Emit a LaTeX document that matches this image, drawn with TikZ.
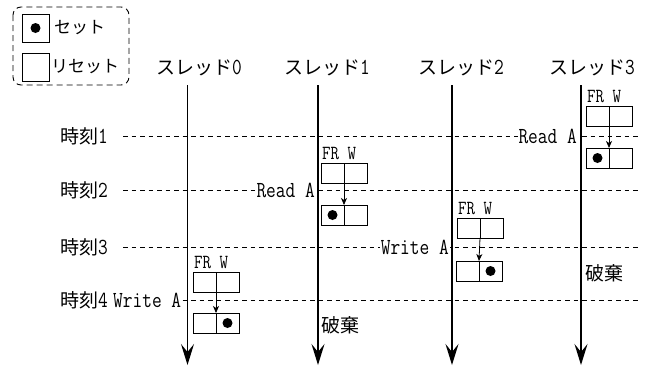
\documentclass[tikz,border=0pt]{standalone}
\usepackage{fontspec}
\newfontfamily\jp{Noto Sans CJK JP}
\newfontfamily\lat[FakeStretch=0.82]{Latin Modern Mono}
\usetikzlibrary{arrows.meta}
\newcommand{\jpsz}{\fontsize{19pt}{22pt}\selectfont}
\newcommand{\lgsz}{\fontsize{17pt}{20pt}\selectfont}
\newcommand{\dg}[1]{{\lat\fontsize{23pt}{24pt}\selectfont #1}}
\tikzset{
  thread/.style={line width=1.6pt, -{Stealth[length=21pt,width=13pt,inset=8pt]}},
  timeline/.style={line width=0.8pt, dash pattern=on 4.5pt off 4pt},
  cell/.style={draw, line width=0.8pt, fill=white, minimum width=23pt, minimum height=20pt, inner sep=0pt, outer sep=0pt},
  lgcell/.style={draw, line width=0.9pt, minimum width=27pt, minimum height=28pt, inner sep=0pt, outer sep=0pt},
  dotmark/.style={circle, fill=black, inner sep=0pt, minimum size=10pt},
  small/.style={line width=0.8pt, -{Stealth[length=7pt,width=6pt,inset=2pt]}},
  jplabel/.style={font=\jp\jpsz, inner sep=1pt},
  oplabel/.style={font=\lat\fontsize{23pt}{24pt}\selectfont, fill=white, inner sep=1pt},
  frw/.style={font=\lat\fontsize{20pt}{22pt}\selectfont, inner sep=0pt},
}
\begin{document}
\begin{tikzpicture}[x=1pt,y=-1pt]
\useasboundingbox (0,0) rectangle (650,365);
% legend
\draw[line width=0.9pt, dash pattern=on 6pt off 4pt, rounded corners=8pt] (13,7) rectangle (129,85);
\node[lgcell] (lg1) at (35.5,28) {};
\node[dotmark] (lgd) at (lg1) {};
\node[lgcell] (lg2) at (35.5,67) {};
\node[font=\jp\lgsz, anchor=west, inner sep=0pt] (lgt1) at (54,28) {セット};
\node[font=\jp\lgsz, anchor=west, inner sep=0pt] (lgt2) at (51,67) {リセット};
% thread labels
\node[jplabel] (h0) at (199,68) {スレッド\dg{0}};
\node[jplabel] (h1) at (327,68) {スレッド\dg{1}};
\node[jplabel] (h2) at (461,68) {スレッド\dg{2}};
\node[jplabel] (h3) at (592,68) {スレッド\dg{3}};
% time labels and lines
\foreach \i/\y in {1/136,2/190,3/247,4/300}{
  \node[jplabel, anchor=west] (t\i) at (59,\y) {時刻\dg{\i}};
  \coordinate (ts\i) at (123,\y);
  \coordinate (te\i) at (640,\y);
  \draw[timeline] (ts\i) -- (te\i);
}
% operation labels
\node[oplabel, anchor=east] (op1) at (578,136) {Read A};
\node[oplabel, anchor=east] (op2) at (316,190) {Read A};
\node[oplabel, anchor=east] (op3) at (450,247) {Write A};
\node[oplabel, anchor=west] (op4) at (112,300) {Write A};
% threads
\foreach \i/\x in {0/187.5,1/318,2/452,3/581}{
  \coordinate (thtop\i) at (\x,85);
  \coordinate (thbot\i) at (\x,365);
  \draw[thread] (thtop\i) -- (thbot\i);
}
% registers: thread 3
\node[cell, anchor=north west] (r3a) at (586,106) {};
\node[cell, anchor=west] (r3b) at (r3a.east) {};
\node[frw, anchor=base west] (f3) at ([xshift=1pt,yshift=4pt]r3a.north west) {FR W};
\node[cell, anchor=north west] (s3a) at (586,148) {};
\node[cell, anchor=west] (s3b) at (s3a.east) {};
\node[dotmark] (d3) at (s3a) {};
\draw[small] (r3a.south east) -- (s3a.north east);
% thread 1
\node[cell, anchor=north west] (r1a) at (321,163) {};
\node[cell, anchor=west] (r1b) at (r1a.east) {};
\node[frw, anchor=base west] (f1) at ([xshift=1pt,yshift=4pt]r1a.north west) {FR W};
\node[cell, anchor=north west] (s1a) at (321,205) {};
\node[cell, anchor=west] (s1b) at (s1a.east) {};
\node[dotmark] (d1) at (s1a) {};
\draw[small] (r1a.south east) -- (s1a.north east);
% thread 2
\node[cell, anchor=north west] (r2a) at (457,218) {};
\node[cell, anchor=west] (r2b) at (r2a.east) {};
\node[frw, anchor=base west] (f2) at ([xshift=1pt,yshift=4pt]r2a.north west) {FR W};
\node[cell, anchor=north west] (s2a) at (456,261) {};
\node[cell, anchor=west] (s2b) at (s2a.east) {};
\node[dotmark] (d2) at (s2b) {};
\draw[small] (r2a.south east) -- (s2a.north east);
% thread 0
\node[cell, anchor=north west] (r0a) at (193,272) {};
\node[cell, anchor=west] (r0b) at (r0a.east) {};
\node[frw, anchor=base west] (f0) at ([xshift=1pt,yshift=4pt]r0a.north west) {FR W};
\node[cell, anchor=north west] (s0a) at (193,313) {};
\node[cell, anchor=west] (s0b) at (s0a.east) {};
\node[dotmark] (d0) at (s0b) {};
\draw[small] (r0a.south east) -- (s0a.north east);
% discard
\node[jplabel, anchor=west] (x1) at (320,325) {破棄};
\node[jplabel, anchor=west] (x3) at (584,273) {破棄};
\end{tikzpicture}
\end{document}
